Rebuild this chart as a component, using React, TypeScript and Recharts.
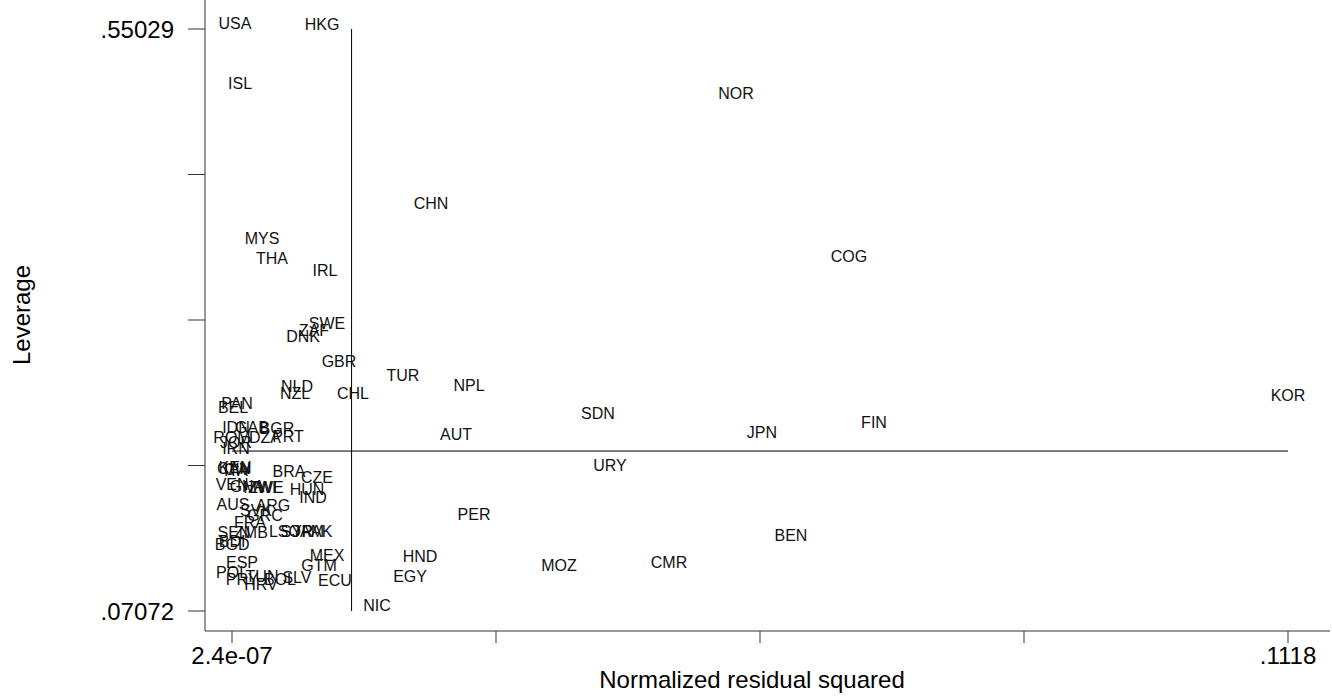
import { ScatterChart, Scatter, XAxis, YAxis, ReferenceLine, Label } from 'recharts'

// country codes, normalized residual squared, leverage
const countries = [
  'USA', 'HKG', 'ISL', 'NOR', 'CHN', 'MYS', 'THA', 'IRL', 'COG', 'SWE',
  'ZAF', 'DNK', 'GBR', 'TUR', 'NPL', 'NLD', 'NZL', 'CHL', 'KOR', 'PAN',
  'BEL', 'SDN', 'FIN', 'JPN', 'AUT', 'IDN', 'GAB', 'BGR', 'ROM', 'JOR',
  'DZA', 'PRT', 'IRN', 'URY', 'PER', 'BEN', 'MEX', 'HND', 'GTM', 'MOZ',
  'CMR', 'EGY', 'ECU', 'NIC', 'SLV', 'CAN', 'ITA', 'KEN', 'CIV', 'BRA',
  'CZE', 'HUN', 'IND', 'VEN', 'GHA', 'MWI', 'ZWE', 'AUS', 'ARG', 'SVK',
  'GRC', 'FRA', 'LSO', 'SYR', 'JAM', 'PAK', 'SEN', 'ZMB', 'BGD', 'BDI',
  'ESP', 'POL', 'PRY', 'TUN', 'BOL', 'HRV',
]
const residSq = [
  0.00032, 0.00953, 0.00085, 0.05336, 0.02107, 0.00318, 0.00423, 0.00985, 0.06532, 0.01006,
  0.00868, 0.00752, 0.01133, 0.0181, 0.02509, 0.00688, 0.00667, 0.01281, 0.1118, 0.00053,
  0.00011, 0.03875, 0.06797, 0.05611, 0.02372, 0.00042, 0.00212, 0.00476, 0.00000024, 0.00042,
  0.00349, 0.00593, 0.00042, 0.04002, 0.02562, 0.05918, 0.01006, 0.0199, 0.00921, 0.03462,
  0.04627, 0.01885, 0.0109, 0.01535, 0.00688, 0.00021, 0.00042, 0.00032, 0.00053, 0.00603,
  0.009, 0.00794, 0.00858, 0.00001, 0.00159, 0.00296, 0.0036, 0.00011, 0.00434, 0.00254,
  0.00349, 0.00191, 0.00561, 0.00688, 0.00805, 0.009, 0.00021, 0.00201, 0.00002, 0.00001,
  0.00106, 0.00001, 0.00106, 0.00318, 0.00508, 0.00307,
]
const leverage = [
  0.55029, 0.5495, 0.50085, 0.49261, 0.40197, 0.37313, 0.35665, 0.34676, 0.3583, 0.30309,
  0.29732, 0.29238, 0.27178, 0.26024, 0.252, 0.25118, 0.24541, 0.24541, 0.24376, 0.23717,
  0.23387, 0.22893, 0.22151, 0.21327, 0.21162, 0.21739, 0.21739, 0.21656, 0.20915, 0.20503,
  0.20915, 0.20997, 0.20009, 0.18608, 0.1457, 0.1284, 0.11192, 0.1111, 0.10368, 0.10368,
  0.10615, 0.09462, 0.09132, 0.07072, 0.09379, 0.1836, 0.1819, 0.1844, 0.1828, 0.18114,
  0.17619, 0.1663, 0.15971, 0.17042, 0.16877, 0.16795, 0.16795, 0.15394, 0.15312, 0.149,
  0.14488, 0.13911, 0.1317, 0.1317, 0.1317, 0.1317, 0.13087, 0.13087, 0.12098, 0.12346,
  0.10615, 0.09791, 0.09214, 0.09462, 0.09214, 0.08802,
]

const xTicks = [2.4e-7, 0.02795, 0.0559, 0.08385, 0.1118]
const yTicks = [0.07072, 0.19061, 0.3105, 0.4304, 0.55029]
const xTickLabels = ['2.4e-07', '', '', '', '.1118']
const yTickLabels = ['.07072', '', '', '', '.55029']
const meanResid = 0.01266
const meanLev = 0.20253

const data = countries.map((c, i) => ({ name: c, x: residSq[i], y: leverage[i] }))

const font = '"Liberation Sans", Arial, Helvetica, sans-serif'

const CountryLabel = (props: any) => (
  <text x={props.cx} y={props.cy} textAnchor="middle" fontSize={16} fontFamily={font} fill="#111">
    {props.payload.name}
  </text>
)

export default function App() {
  return (
    <div>
      <style>{`html,body{margin:0;padding:0;overflow:hidden;background:#fff}`}</style>
      <ScatterChart width={1332} height={696} margin={{ top: 0, right: 2, bottom: 0, left: 0 }}>
        <XAxis
          type="number"
          dataKey="x"
          domain={[-0.0028583, 0.116247]}
          allowDataOverflow
          ticks={xTicks}
          interval={0}
          tickFormatter={(v, i) => xTickLabels[i]}
          height={65}
          tickSize={12}
          tickMargin={4}
          stroke="#333"
          tick={{ fill: '#000', fontSize: 24, fontFamily: font }}
        >
          <Label
            content={() => (
              <text x={752} y={688} textAnchor="middle" fontSize={24} fontFamily={font} fill="#000">
                Normalized residual squared
              </text>
            )}
          />
        </XAxis>
        <YAxis
          type="number"
          dataKey="y"
          domain={[0.05424, 0.57419]}
          allowDataOverflow
          ticks={yTicks}
          interval={0}
          tickFormatter={(v, i) => yTickLabels[i]}
          width={205}
          tickSize={17}
          tickMargin={14}
          stroke="#333"
          tick={{ fill: '#000', fontSize: 24, fontFamily: font }}
        >
          <Label
            content={() => (
              <text
                x={30}
                y={315}
                transform="rotate(-90 30 315)"
                textAnchor="middle"
                fontSize={24}
                fontFamily={font}
                fill="#000"
              >
                Leverage
              </text>
            )}
          />
        </YAxis>
        <ReferenceLine
          segment={[{ x: meanResid, y: 0.07072 }, { x: meanResid, y: 0.55029 }]}
          stroke="#000"
          strokeWidth={1}
        />
        <ReferenceLine
          segment={[{ x: 2.4e-7, y: meanLev }, { x: 0.1118, y: meanLev }]}
          stroke="#000"
          strokeWidth={1}
        />
        <Scatter data={data} shape={CountryLabel} isAnimationActive={false} />
      </ScatterChart>
    </div>
  )
}
